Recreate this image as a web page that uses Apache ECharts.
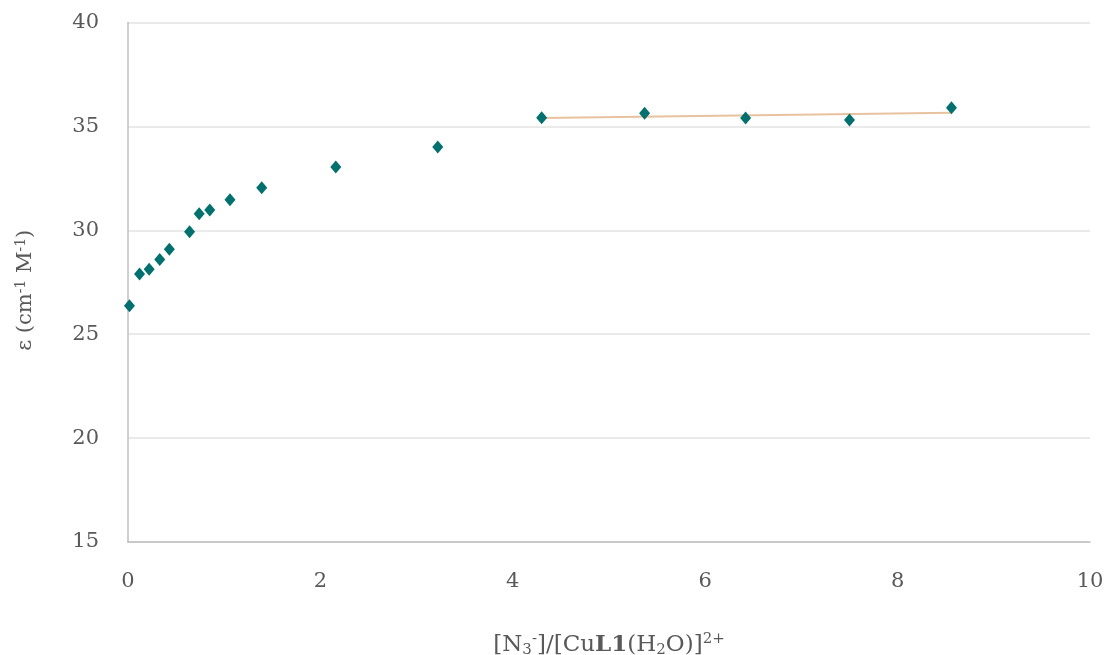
<!DOCTYPE html>
<html>
<head>
<meta charset="utf-8">
<script src="https://cdn.jsdelivr.net/npm/echarts@6/dist/echarts.min.js"></script>
<style>
  html, body { margin: 0; padding: 0; background: #ffffff; }
  #chart { width: 1109px; height: 655px; }
</style>
</head>
<body>
<div id="chart"></div>
<script>
// Titration of [CuL1(H2O)]2+ with azide: molar absorptivity vs. ratio
const ratio = [0.015, 0.12, 0.22, 0.33, 0.43, 0.64, 0.74, 0.85, 1.06, 1.39, 2.16, 3.22, 4.30, 5.37, 6.42, 7.50, 8.56];
const epsilon = [26.37, 27.90, 28.12, 28.60, 29.09, 29.93, 30.80, 30.98, 31.47, 32.05, 33.05, 34.01, 35.42, 35.63, 35.40, 35.31, 35.90];
// points used for the linear trendline (plateau region)
const fitStart = 12;

const xTicks = [0, 2, 4, 6, 8, 10];
const yTicks = [15, 20, 25, 30, 35, 40];

const points = ratio.map((x, i) => [x, epsilon[i]]);

// least-squares line through the plateau points
const fx = ratio.slice(fitStart), fy = epsilon.slice(fitStart);
const mx = fx.reduce((a, b) => a + b, 0) / fx.length;
const my = fy.reduce((a, b) => a + b, 0) / fy.length;
let sxy = 0, sxx = 0;
fx.forEach((x, i) => { sxy += (x - mx) * (fy[i] - my); sxx += (x - mx) * (x - mx); });
const slope = sxy / sxx, icpt = my - slope * mx;
const trend = [fx[0], fx[fx.length - 1]].map(x => [x, icpt + slope * x]);

const FONT = 'DejaVu Serif';
const GREY = '#595959';

const chart = echarts.init(document.getElementById('chart'));
chart.setOption({
  animation: false,
  backgroundColor: '#ffffff',
  grid: { left: 128, right: 19, top: 22.5, bottom: 113, outerBoundsMode: 'none', containLabel: false },
  xAxis: {
    type: 'value',
    min: xTicks[0], max: xTicks[xTicks.length - 1], interval: 2,
    axisLine: { show: true, lineStyle: { color: '#BFBFBF', width: 1.5 } },
    axisTick: { show: false },
    splitLine: { show: false },
    axisLabel: { color: GREY, fontFamily: FONT, fontSize: 21, margin: 29 },
    name: '[N{sub|3}{sup|-}]/[Cu{b|L1}(H{sub|2}O)]{sup|2+}',
    nameLocation: 'middle',
    nameGap: 90,
    nameTextStyle: {
      color: GREY, fontFamily: FONT, fontSize: 23,
      rich: {
        sub: { fontSize: 15, color: GREY, fontFamily: FONT, padding: [10, 0, 0, 0] },
        sup: { fontSize: 15, color: GREY, fontFamily: FONT, padding: [0, 0, 11, 0] },
        b: { fontSize: 23, color: GREY, fontFamily: FONT, fontWeight: 'bold' }
      }
    }
  },
  yAxis: {
    type: 'value',
    min: yTicks[0], max: yTicks[yTicks.length - 1], interval: 5,
    axisLine: { show: true, lineStyle: { color: '#BFBFBF', width: 1.5 } },
    axisTick: { show: false },
    splitLine: { show: true, lineStyle: { color: '#E3E3E3', width: 1.5 } },
    axisLabel: { color: GREY, fontFamily: FONT, fontSize: 21, margin: 29 },
    name: 'ε (cm{sup|-1} M{sup|-1})',
    nameLocation: 'middle',
    nameGap: 90,
    nameTextStyle: {
      color: GREY, fontFamily: FONT, fontSize: 21,
      padding: [0, 16, 0, 0],
      rich: {
        sup: { fontSize: 14, color: GREY, fontFamily: FONT, padding: [0, 0, 10, 0] }
      }
    }
  },
  series: [
    {
      type: 'line',
      data: trend,
      symbol: 'none',
      lineStyle: { color: '#E8C29F', width: 2 },
      silent: true,
      z: 1
    },
    {
      type: 'scatter',
      data: points,
      symbol: 'diamond',
      symbolSize: [11, 13],
      itemStyle: { color: '#02706E', opacity: 1 },
      z: 2
    }
  ]
});
</script>
</body>
</html>
